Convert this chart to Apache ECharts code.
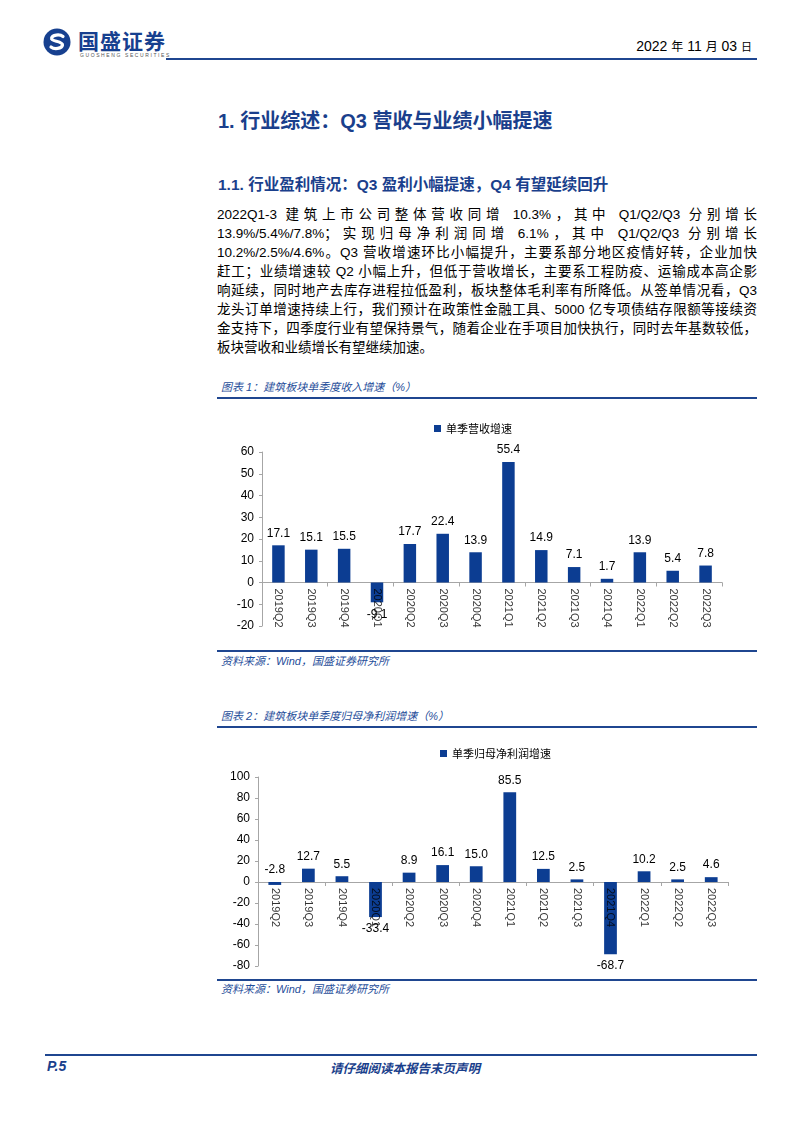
<!DOCTYPE html>
<html><head><meta charset="utf-8">
<script src="https://cdn.jsdelivr.net/npm/echarts@6/dist/echarts.min.js"></script>
<style>
body{margin:0;width:802px;height:1133px;background:#fff;position:relative;font-family:"Liberation Sans","Noto Sans CJK SC",sans-serif;overflow:hidden}
.abs{position:absolute}
.para div{width:540px;font-size:13.5px;line-height:19px;text-align:justify;text-align-last:justify;color:#000;height:19px;white-space:nowrap}
.para div.last{text-align-last:left}
.cap{font-style:italic;color:#1f4e9a;font-size:11px}
.hline{position:absolute;background:#1f4690}
</style></head>
<body>
<svg class="abs" style="left:43px;top:28px" width="28" height="28" viewBox="0 0 28 28">
<circle cx="14" cy="14" r="13.5" fill="#17408f"/>
<path d="M20 8.5 C17 6,9 6.5,8.5 10.5 C8 13.5,20 13,19.5 17 C19 21,11 21.5,8 19" fill="none" stroke="#fff" stroke-width="3.2" stroke-linecap="round"/>
</svg>
<div class="abs" style="left:78px;top:28px;font-size:21px;font-weight:bold;color:#17408f;font-family:'Noto Sans CJK SC';letter-spacing:1px;line-height:24px">国盛证券</div>
<div class="abs" style="left:80px;top:52px;font-size:5px;color:#555;letter-spacing:1.6px;line-height:6px">GUOSHENG SECURITIES</div>
<div class="hline" style="left:166px;top:58px;width:591px;height:2px"></div>
<div class="abs" style="left:600px;top:37px;width:152px;text-align:right;font-size:14px;color:#000;line-height:18px">2022 <span style="font-size:12px">年</span> 11 <span style="font-size:12px">月</span> 03 <span style="font-size:11px">日</span></div>

<div class="abs" style="left:218px;top:107px;font-size:20px;font-weight:bold;color:#1a3f8c;line-height:28px;font-family:'Liberation Sans','Noto Sans CJK SC'">1. 行业综述：Q3 营收与业绩小幅提速</div>
<div class="abs" style="left:218px;top:174px;font-size:15.5px;font-weight:bold;color:#1a3f8c;line-height:22px">1.1. 行业盈利情况：Q3 盈利小幅提速，Q4 有望延续回升</div>

<div class="abs para" style="left:217px;top:205px">
<div>2022Q1-3 建筑上市公司整体营收同增 10.3%，其中 Q1/Q2/Q3 分别增长</div>
<div>13.9%/5.4%/7.8%；实现归母净利润同增 6.1%，其中 Q1/Q2/Q3 分别增长</div>
<div>10.2%/2.5%/4.6%。Q3 营收增速环比小幅提升，主要系部分地区疫情好转，企业加快</div>
<div>赶工；业绩增速较 Q2 小幅上升，但低于营收增长，主要系工程防疫、运输成本高企影</div>
<div>响延续，同时地产去库存进程拉低盈利，板块整体毛利率有所降低。从签单情况看，Q3</div>
<div>龙头订单增速持续上行，我们预计在政策性金融工具、5000 亿专项债结存限额等接续资</div>
<div>金支持下，四季度行业有望保持景气，随着企业在手项目加快执行，同时去年基数较低，</div>
<div class="last">板块营收和业绩增长有望继续加速。</div>
</div>

<div class="abs cap" style="left:221px;top:378px">图表 1：建筑板块单季度收入增速（%）</div>
<div class="hline" style="left:217px;top:397px;width:540px;height:1.5px"></div>
<div id="c1" class="abs" style="left:200px;top:400px;width:580px;height:248px"></div>
<div class="hline" style="left:217px;top:650px;width:540px;height:1.5px"></div>
<div class="abs cap" style="left:221px;top:652px">资料来源：Wind，国盛证券研究所</div>

<div class="abs cap" style="left:221px;top:707px">图表 2：建筑板块单季度归母净利润增速（%）</div>
<div class="hline" style="left:217px;top:726px;width:540px;height:1.5px"></div>
<div id="c2" class="abs" style="left:200px;top:730px;width:580px;height:248px"></div>
<div class="hline" style="left:217px;top:979px;width:540px;height:1.5px"></div>
<div class="abs cap" style="left:221px;top:980px">资料来源：Wind，国盛证券研究所</div>

<div class="hline" style="left:45px;top:1054px;width:712px;height:2px"></div>
<div class="abs" style="left:47px;top:1058px;font-size:14px;font-weight:bold;font-style:italic;color:#1a3f8c">P.5</div>
<div class="abs" style="left:300px;top:1058px;width:210px;text-align:center;font-size:12.5px;font-weight:bold;font-style:italic;color:#1a3f8c">请仔细阅读本报告末页声明</div>

<script>
const quarters = ['2019Q2','2019Q3','2019Q4','2020Q1','2020Q2','2020Q3','2020Q4','2021Q1','2021Q2','2021Q3','2021Q4','2022Q1','2022Q2','2022Q3'];
const revenueGrowth = [17.1,15.1,15.5,-9.1,17.7,22.4,13.9,55.4,14.9,7.1,1.7,13.9,5.4,7.8];
const profitGrowth = [-2.8,12.7,5.5,-33.4,8.9,16.1,15.0,85.5,12.5,2.5,-68.7,10.2,2.5,4.6];
const revenueName = '单季营收增速';
const profitName = '单季归母净利润增速';
const revenueAxis = {min:-20, max:60, interval:10};
const profitAxis = {min:-80, max:100, interval:20};

const BAR = '#0c3d92';
const numFont = 'Liberation Sans';
function makeOption(name, values, axis, grid, legendPos){
  return {
    animation:false,
    legend:{data:[name], left:legendPos.left, top:legendPos.top, icon:'rect', itemWidth:7, itemHeight:7, itemGap:4,
      textStyle:{fontSize:11, color:'#000', fontFamily:'Noto Sans CJK SC'}},
    grid:Object.assign({containLabel:false, outerBoundsMode:'none'}, grid),
    xAxis:{type:'category', data:quarters,
      axisLine:{onZero:true, lineStyle:{color:'#a6a6a6'}},
      axisTick:{show:true, length:4, lineStyle:{color:'#a6a6a6'}},
      axisLabel:{show:false}},
    yAxis:{type:'value', min:axis.min, max:axis.max, interval:axis.interval,
      axisLine:{show:true, lineStyle:{color:'#a6a6a6'}},
      axisTick:{show:true, length:3, lineStyle:{color:'#a6a6a6'}},
      splitLine:{show:false},
      axisLabel:{fontSize:12, color:'#000', fontFamily:numFont, margin:8}},
    series:[{type:'bar', name:name, barWidth:'38%', itemStyle:{color:BAR},
      data:values.map(v=>({value:v, label:{position: v < -5 ? 'bottom' : 'top'}})),
      label:{show:true, fontSize:12, color:'#000', fontFamily:numFont, distance:6,
        formatter:p=>p.value.toFixed(1)}},
      {type:'scatter', name:'axisLabels', z:6, symbolSize:0, silent:true,
        data:quarters.map(q=>[q,0]),
        label:{show:true, position:'bottom', distance:6, rotate:-90, align:'left', verticalAlign:'middle',
          fontSize:11, color:'#000', fontFamily:numFont, formatter:p=>p.value[0]}}]
  };
}
echarts.init(document.getElementById('c1')).setOption(makeOption(revenueName, revenueGrowth, revenueAxis,
  {left:62, top:52, width:460, height:174}, {left:229, top:18}));
echarts.init(document.getElementById('c2')).setOption(makeOption(profitName, profitGrowth, profitAxis,
  {left:58, top:47, width:470, height:189}, {left:235, top:13}));
</script>
</body></html>
